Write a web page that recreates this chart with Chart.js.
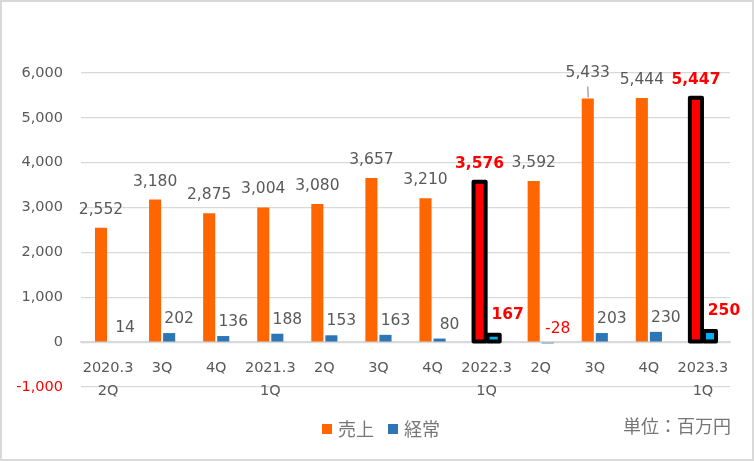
<!DOCTYPE html>
<html lang="ja">
<head>
<meta charset="UTF-8">
<title>売上・経常</title>
<script src="https://cdn.jsdelivr.net/npm/chart.js@4"></script>
<style>
  html, body { margin: 0; padding: 0; background: #fff; }
  canvas { display: block; }
</style>
</head>
<body>
<canvas id="salesChart" width="754" height="461"></canvas>
<script>
// データ
const categories = [
  ['2020.3', '2Q'], '3Q', '4Q', ['2021.3', '1Q'], '2Q', '3Q', '4Q',
  ['2022.3', '1Q'], '2Q', '3Q', '4Q', ['2023.3', '1Q']
];
const sales = [2552, 3180, 2875, 3004, 3080, 3657, 3210, 3576, 3592, 5433, 5444, 5447];
const ordinary = [14, 202, 136, 188, 153, 163, 80, 167, -28, 203, 230, 250];
const highlighted = [7, 11];
const seriesNames = ['売上', '経常'];
const unitText = '単位：百万円';

const FONT = '"DejaVu Sans", "Noto Sans CJK JP", sans-serif';
const JP_FONT = '"Noto Sans CJK JP", sans-serif';
const GRAY = '#595959';
const ORANGE = '#FF6600';
const BLUE = '#2E75B6';

function isHi(i) {
  return highlighted.includes(i);
}

function fmt(v) {
  return v.toLocaleString('en-US');
}

// 背景と外枠
const framePlugin = {
  id: 'frame',
  beforeDraw(chart) {
    const ctx = chart.ctx;
    ctx.save();
    ctx.fillStyle = '#fff';
    ctx.fillRect(0, 0, chart.width, chart.height);
    ctx.strokeStyle = '#d9d9d9';
    ctx.lineWidth = 2;
    ctx.strokeRect(1, 1, chart.width - 2, chart.height - 2);
    ctx.restore();
  }
};

// 強調枠・データラベル・凡例
const labelPlugin = {
  id: 'labels',
  afterDatasetsDraw(chart) {
    const ctx = chart.ctx;
    ctx.save();

    // 強調バーの黒枠
    chart.data.datasets.forEach((ds, di) => {
      const meta = chart.getDatasetMeta(di);
      meta.data.forEach((bar, i) => {
        if (!isHi(i)) return;
        const p = bar.getProps(['x', 'y', 'base', 'width'], true);
        const top = Math.min(p.y, p.base);
        const h = Math.abs(p.base - p.y);
        ctx.strokeStyle = '#000';
        ctx.lineWidth = 4;
        ctx.lineJoin = 'round';
        ctx.strokeRect(p.x - p.width / 2, top, p.width, h);
      });
    });

    ctx.textAlign = 'center';
    ctx.textBaseline = 'middle';

    // 売上ラベル
    const m0 = chart.getDatasetMeta(0);
    m0.data.forEach((bar, i) => {
      const v = sales[i];
      const hi = isHi(i);
      ctx.font = (hi ? 'bold ' : '') + '15.5px ' + FONT;
      ctx.fillStyle = hi ? '#FF0000' : GRAY;
      let ly = bar.y - 18;
      if (i === 9) {
        // 引き出し線付き
        ly = bar.y - 25;
        ctx.strokeStyle = '#a6a6a6';
        ctx.lineWidth = 1.5;
        ctx.beginPath();
        ctx.moveTo(bar.x, ly + 13);
        ctx.lineTo(bar.x + 0.5, bar.y - 1);
        ctx.stroke();
      }
      ctx.fillText(fmt(v), bar.x, ly);
    });

    // 経常ラベル
    const m1 = chart.getDatasetMeta(1);
    m1.data.forEach((bar, i) => {
      const v = ordinary[i];
      const hi = isHi(i);
      ctx.font = (hi ? 'bold ' : '') + '15.5px ' + FONT;
      ctx.fillStyle = (hi || v < 0) ? '#FF0000' : GRAY;
      const top = Math.min(bar.y, bar.base);
      ctx.fillText(fmt(v), bar.x + (hi ? 14 : 10), top - (hi ? 20 : 14));
    });

    // 凡例
    ctx.font = '18px ' + JP_FONT;
    ctx.textAlign = 'left';
    const ly = 429;
    ctx.fillStyle = ORANGE;
    ctx.fillRect(322, ly - 5, 10, 10);
    ctx.fillStyle = '#767676';
    ctx.fillText(seriesNames[0], 338, ly);
    ctx.fillStyle = BLUE;
    ctx.fillRect(388, ly - 5, 10, 10);
    ctx.fillStyle = '#767676';
    ctx.fillText(seriesNames[1], 404, ly);

    ctx.textAlign = 'right';
    ctx.fillText(unitText, 731, 426);

    ctx.restore();
  }
};

const ctx = document.getElementById('salesChart');

new Chart(ctx, {
  type: 'bar',
  data: {
    labels: categories,
    datasets: [
      {
        label: seriesNames[0],
        data: sales,
        backgroundColor: sales.map((v, i) => isHi(i) ? '#FF0000' : ORANGE),
        borderWidth: 0,
        categoryPercentage: 0.52,
        barPercentage: 0.86
      },
      {
        label: seriesNames[1],
        data: ordinary,
        backgroundColor: ordinary.map((v, i) => isHi(i) ? '#00B0F0' : BLUE),
        borderWidth: 0,
        categoryPercentage: 0.52,
        barPercentage: 0.86
      }
    ]
  },
  options: {
    responsive: false,
    devicePixelRatio: 1,
    animation: false,
    layout: {
      padding: { top: 73, right: 24, bottom: 74, left: 0 }
    },
    plugins: {
      legend: { display: false },
      tooltip: { enabled: false }
    },
    scales: {
      x: {
        position: { y: 0 },
        grid: { display: false, drawTicks: false },
        border: { display: true, color: '#d9d9d9', width: 1.5 },
        ticks: {
          color: GRAY,
          font: { family: FONT, size: 14.5, lineHeight: 1.62 },
          padding: 14,
          maxRotation: 0,
          autoSkip: false
        }
      },
      y: {
        min: -1000,
        max: 6000,
        afterFit(scale) {
          scale.width = 81;
        },
        grid: { color: '#d9d9d9', lineWidth: 1.2, drawTicks: false },
        border: { display: false },
        ticks: {
          stepSize: 1000,
          padding: 18,
          font: { family: FONT, size: 14.5 },
          color: (c) => c.tick && c.tick.value < 0 ? '#FF0000' : GRAY,
          callback: (v) => fmt(v)
        }
      }
    }
  },
  plugins: [framePlugin, labelPlugin]
});
</script>
</body>
</html>
